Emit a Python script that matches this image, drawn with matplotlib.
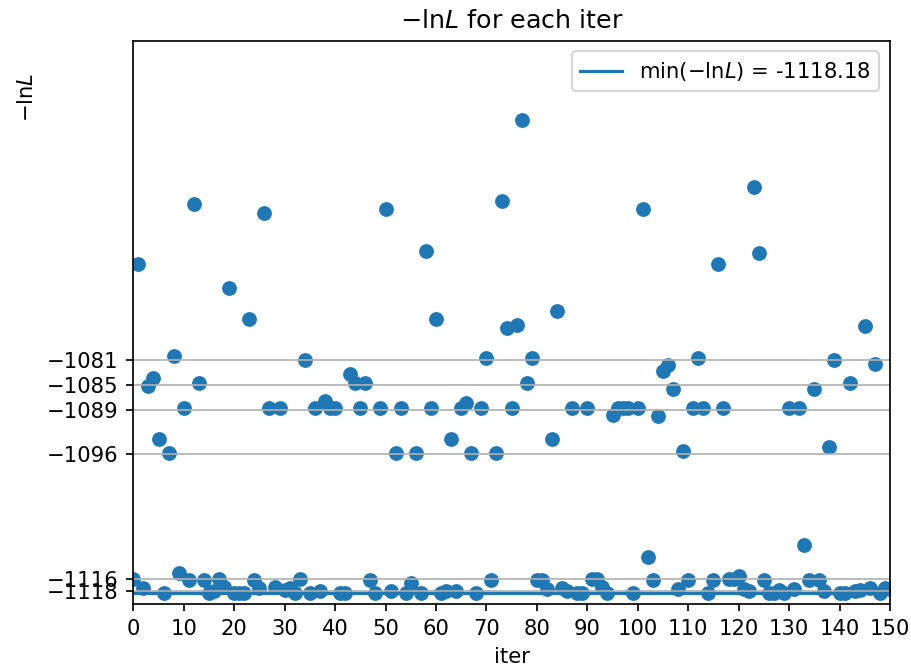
import numpy as np
import matplotlib
matplotlib.use('Agg')
import matplotlib.pyplot as plt

# -lnL value for each iteration
neg_lnL = [
    -1116.0, -1065.6, -1117.5, -1085.2, -1083.9, -1093.6, -1118.18, -1095.9, -1080.4, -1115.1,
    -1088.6, -1116.1, -1056.1, -1084.7, -1116.1, -1118.18, -1118.0, -1116.0, -1117.3, -1069.5,
    -1118.18, -1118.18, -1118.18, -1074.4, -1116.1, -1117.5, -1057.5, -1088.6, -1117.3, -1088.6,
    -1117.7, -1117.5, -1118.18, -1116.0, -1081.0, -1118.18, -1088.6, -1118.0, -1087.5, -1088.6,
    -1088.6, -1118.18, -1118.18, -1083.2, -1084.7, -1088.6, -1084.7, -1116.1, -1118.18, -1088.6,
    -1056.8, -1118.0, -1095.9, -1088.6, -1118.18, -1116.6, -1095.9, -1118.18, -1063.6, -1088.6,
    -1074.4, -1118.18, -1118.0, -1093.6, -1118.0, -1088.6, -1087.8, -1095.9, -1118.18, -1088.6,
    -1080.7, -1116.1, -1095.9, -1055.6, -1075.9, -1088.6, -1075.4, -1042.7, -1084.7, -1080.7,
    -1116.1, -1116.1, -1117.6, -1093.6, -1073.2, -1117.5, -1118.0, -1088.6, -1118.18, -1118.18,
    -1088.6, -1116.0, -1116.0, -1117.3, -1118.18, -1089.75, -1088.6, -1088.6, -1088.6, -1118.18,
    -1088.6, -1056.8, -1112.5, -1116.1, -1090.0, -1082.7, -1081.75, -1085.6, -1117.6, -1095.6,
    -1116.1, -1088.6, -1080.7, -1088.6, -1118.18, -1116.1, -1065.6, -1088.6, -1116.0, -1116.0,
    -1115.5, -1117.6, -1118.0, -1053.4, -1063.9, -1116.1, -1118.18, -1118.18, -1117.8, -1118.18,
    -1088.6, -1117.6, -1088.6, -1110.5, -1116.1, -1085.6, -1116.1, -1118.0, -1094.9, -1081.0,
    -1118.18, -1118.18, -1084.7, -1118.0, -1117.8, -1075.6, -1117.5, -1081.65, -1118.18, -1117.5,
    -1117.6,
]
iters = np.arange(len(neg_lnL))
ytick_vals = [-1118, -1116, -1096, -1089, -1085, -1081]


def main():
    fig = plt.figure(figsize=(911 / 152, 669 / 152), dpi=152)
    ax = fig.add_axes([0.1463, 0.0972, 0.8306, 0.8416])

    min_val = min(neg_lnL)
    ax.scatter(iters, neg_lnL)
    ax.plot([iters[0], iters[-1]], [min_val, min_val],
            label=r'min($-\mathrm{ln}L$) = %.2f' % min_val)

    ax.set_xlim(0, 150)
    ax.set_ylim(-1120, -1030)
    ax.set_xticks(np.arange(0, 151, 10))
    ax.set_yticks(ytick_vals)
    ax.yaxis.grid(True)

    ax.set_title(r'$-\mathrm{ln}L$ for each iter')
    ax.set_xlabel('iter')
    ax.set_ylabel(r'$-\mathrm{ln}L$')
    ax.yaxis.set_label_coords(-0.127, 0.9)
    ax.legend(loc='upper right')

    fig.savefig('out.png', dpi=152)


if __name__ == '__main__':
    main()
